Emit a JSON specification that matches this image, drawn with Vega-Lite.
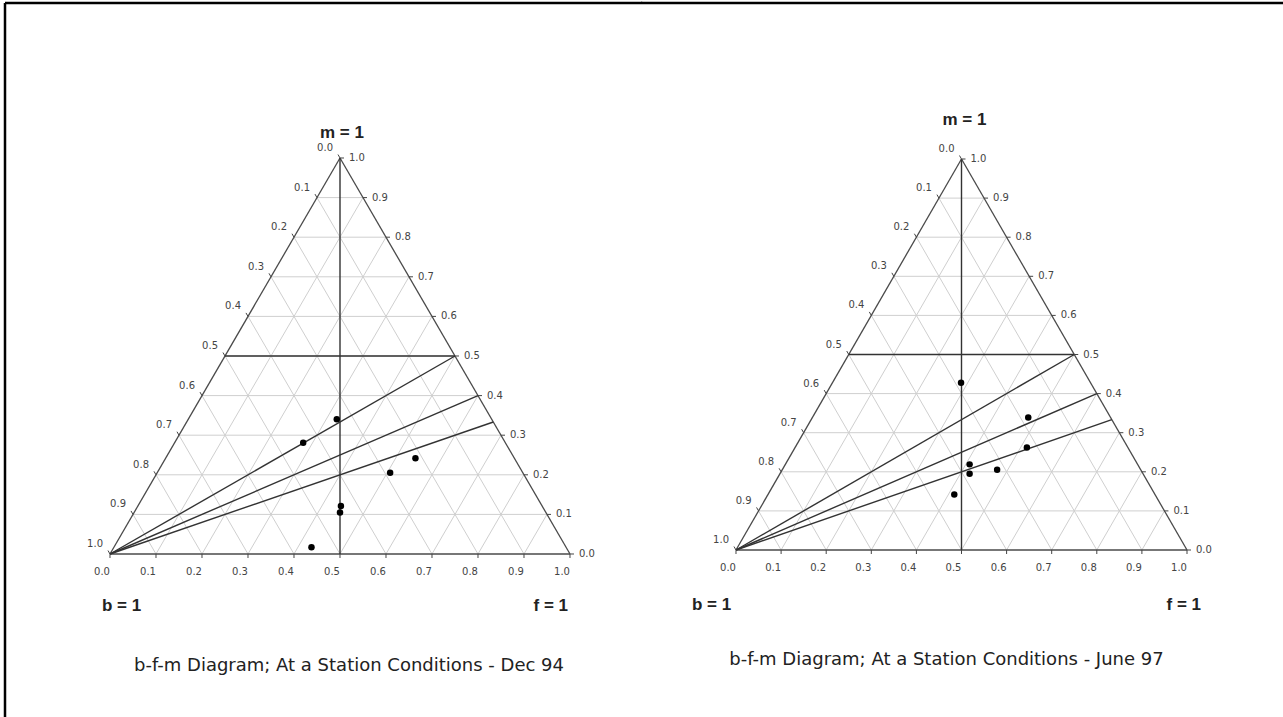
{
  "$schema": "https://vega.github.io/schema/vega-lite/v6.json",
  "background": "white",
  "padding": {"left": 3, "top": 1, "right": 0, "bottom": 0},
  "spacing": 0,
  "bounds": "flush",
  "config": {"view": {"stroke": null}},
  "datasets": {
    "grid": [
      {"x": 0.05, "y": 0.1, "x2": 0.95, "y2": 0.1},
      {"x": 0.1, "y": 0.2, "x2": 0.9, "y2": 0.2},
      {"x": 0.15, "y": 0.3, "x2": 0.85, "y2": 0.3},
      {"x": 0.2, "y": 0.4, "x2": 0.8, "y2": 0.4},
      {"x": 0.25, "y": 0.5, "x2": 0.75, "y2": 0.5},
      {"x": 0.3, "y": 0.6, "x2": 0.7, "y2": 0.6},
      {"x": 0.35, "y": 0.7, "x2": 0.65, "y2": 0.7},
      {"x": 0.4, "y": 0.8, "x2": 0.6, "y2": 0.8},
      {"x": 0.45, "y": 0.9, "x2": 0.55, "y2": 0.9},
      {"x": 0.1, "y": 0, "x2": 0.55, "y2": 0.9},
      {"x": 0.2, "y": 0, "x2": 0.6, "y2": 0.8},
      {"x": 0.3, "y": 0, "x2": 0.65, "y2": 0.7},
      {"x": 0.4, "y": 0, "x2": 0.7, "y2": 0.6},
      {"x": 0.5, "y": 0, "x2": 0.75, "y2": 0.5},
      {"x": 0.6, "y": 0, "x2": 0.8, "y2": 0.4},
      {"x": 0.7, "y": 0, "x2": 0.85, "y2": 0.3},
      {"x": 0.8, "y": 0, "x2": 0.9, "y2": 0.2},
      {"x": 0.9, "y": 0, "x2": 0.95, "y2": 0.1},
      {"x": 0.1, "y": 0, "x2": 0.05, "y2": 0.1},
      {"x": 0.2, "y": 0, "x2": 0.1, "y2": 0.2},
      {"x": 0.3, "y": 0, "x2": 0.15, "y2": 0.3},
      {"x": 0.4, "y": 0, "x2": 0.2, "y2": 0.4},
      {"x": 0.5, "y": 0, "x2": 0.25, "y2": 0.5},
      {"x": 0.6, "y": 0, "x2": 0.3, "y2": 0.6},
      {"x": 0.7, "y": 0, "x2": 0.35, "y2": 0.7},
      {"x": 0.8, "y": 0, "x2": 0.4, "y2": 0.8},
      {"x": 0.9, "y": 0, "x2": 0.45, "y2": 0.9}
    ],
    "edges": [
      {"x": 0, "y": 0, "x2": 1, "y2": 0},
      {"x": 0, "y": 0, "x2": 0.5, "y2": 1},
      {"x": 1, "y": 0, "x2": 0.5, "y2": 1}
    ],
    "guides": [
      {"x": 0.5, "y": 0, "x2": 0.5, "y2": 1},
      {"x": 0.25, "y": 0.5, "x2": 0.75, "y2": 0.5},
      {"x": 0, "y": 0, "x2": 0.75, "y2": 0.5},
      {"x": 0, "y": 0, "x2": 0.8, "y2": 0.4},
      {"x": 0, "y": 0, "x2": 0.8333, "y2": 0.3333}
    ],
    "sideF": [
      {"v": 0.0, "x": 0.0, "y": 0}, {"v": 0.1, "x": 0.1, "y": 0}, {"v": 0.2, "x": 0.2, "y": 0},
      {"v": 0.3, "x": 0.3, "y": 0}, {"v": 0.4, "x": 0.4, "y": 0}, {"v": 0.5, "x": 0.5, "y": 0},
      {"v": 0.6, "x": 0.6, "y": 0}, {"v": 0.7, "x": 0.7, "y": 0}, {"v": 0.8, "x": 0.8, "y": 0},
      {"v": 0.9, "x": 0.9, "y": 0}, {"v": 1.0, "x": 1.0, "y": 0}
    ],
    "sideB": [
      {"v": 0.0, "x": 0.5, "y": 1.0}, {"v": 0.1, "x": 0.45, "y": 0.9}, {"v": 0.2, "x": 0.4, "y": 0.8},
      {"v": 0.3, "x": 0.35, "y": 0.7}, {"v": 0.4, "x": 0.3, "y": 0.6}, {"v": 0.5, "x": 0.25, "y": 0.5},
      {"v": 0.6, "x": 0.2, "y": 0.4}, {"v": 0.7, "x": 0.15, "y": 0.3}, {"v": 0.8, "x": 0.1, "y": 0.2},
      {"v": 0.9, "x": 0.05, "y": 0.1}, {"v": 1.0, "x": 0.0, "y": 0.0}
    ],
    "sideM": [
      {"v": 0.0, "x": 1.0, "y": 0.0}, {"v": 0.1, "x": 0.95, "y": 0.1}, {"v": 0.2, "x": 0.9, "y": 0.2},
      {"v": 0.3, "x": 0.85, "y": 0.3}, {"v": 0.4, "x": 0.8, "y": 0.4}, {"v": 0.5, "x": 0.75, "y": 0.5},
      {"v": 0.6, "x": 0.7, "y": 0.6}, {"v": 0.7, "x": 0.65, "y": 0.7}, {"v": 0.8, "x": 0.6, "y": 0.8},
      {"v": 0.9, "x": 0.55, "y": 0.9}, {"v": 1.0, "x": 0.5, "y": 1.0}
    ],
    "cap94": [
      {"role": "apex", "label": "m = 1", "x": 0.5, "y": 1},
      {"role": "left", "label": "b = 1", "x": 0, "y": 0},
      {"role": "right", "label": "f = 1", "x": 1, "y": 0},
      {"role": "title", "label": "b-f-m Diagram; At a Station Conditions - Dec 94", "x": 0.5, "y": 0}
    ],
    "cap97": [
      {"role": "apex", "label": "m = 1", "x": 0.5, "y": 1},
      {"role": "left", "label": "b = 1", "x": 0, "y": 0},
      {"role": "right", "label": "f = 1", "x": 1, "y": 0},
      {"role": "title", "label": "b-f-m Diagram; At a Station Conditions - June 97", "x": 0.5, "y": 0}
    ],
    "dec94": [
      {"x": 0.493, "y": 0.340},
      {"x": 0.420, "y": 0.281},
      {"x": 0.664, "y": 0.242},
      {"x": 0.609, "y": 0.205},
      {"x": 0.502, "y": 0.121},
      {"x": 0.500, "y": 0.105},
      {"x": 0.438, "y": 0.017}
    ],
    "jun97": [
      {"x": 0.499, "y": 0.428},
      {"x": 0.648, "y": 0.339},
      {"x": 0.645, "y": 0.262},
      {"x": 0.518, "y": 0.219},
      {"x": 0.518, "y": 0.195},
      {"x": 0.579, "y": 0.205},
      {"x": 0.484, "y": 0.142}
    ]
  },
  "hconcat": [
    {
      "width": 636,
      "height": 714,
      "view": {"stroke": "#000000", "strokeWidth": 2.5, "strokeDash": [637, 1349, 714, 0]},
      "encoding": {
        "x": {"field": "x", "type": "quantitative", "scale": {"domain": [-0.22826, 1.15435], "nice": false, "zero": false}, "axis": null},
        "y": {"field": "y", "type": "quantitative", "scale": {"domain": [-0.41162, 1.39141], "nice": false, "zero": false}, "axis": null}
      },
      "layer": [
        {"data": {"name": "grid"}, "mark": {"type": "rule", "color": "#cfcfcf", "strokeWidth": 1}, "encoding": {"x2": {"field": "x2"}, "y2": {"field": "y2"}}},
        {"data": {"name": "edges"}, "mark": {"type": "rule", "color": "#4a4a4a", "strokeWidth": 1.3}, "encoding": {"x2": {"field": "x2"}, "y2": {"field": "y2"}}},
        {"data": {"name": "guides"}, "mark": {"type": "rule", "color": "#333333", "strokeWidth": 1.4}, "encoding": {"x2": {"field": "x2"}, "y2": {"field": "y2"}}},
        {"data": {"name": "sideF"}, "mark": {"type": "point", "shape": "M0,0L0,1", "size": 64, "filled": false, "opacity": 1, "color": "#444444", "strokeWidth": 1}},
        {"data": {"name": "sideB"}, "mark": {"type": "point", "shape": "M0,0L-0.5,-0.87", "size": 64, "filled": false, "opacity": 1, "color": "#444444", "strokeWidth": 1}},
        {"data": {"name": "sideM"}, "mark": {"type": "point", "shape": "M0,0L1,0", "size": 64, "filled": false, "opacity": 1, "color": "#444444", "strokeWidth": 1}},
        {"data": {"name": "sideF"}, "mark": {"type": "text", "font": "DejaVu Sans", "fontSize": 10, "color": "#444444", "align": "center", "baseline": "middle", "dx": -8, "dy": 18}, "encoding": {"text": {"field": "v", "type": "quantitative", "format": ".1f"}}},
        {"data": {"name": "sideB"}, "mark": {"type": "text", "font": "DejaVu Sans", "fontSize": 10, "color": "#444444", "align": "right", "baseline": "middle", "dx": -7, "dy": -10}, "encoding": {"text": {"field": "v", "type": "quantitative", "format": ".1f"}}},
        {"data": {"name": "sideM"}, "mark": {"type": "text", "font": "DejaVu Sans", "fontSize": 10, "color": "#444444", "align": "left", "baseline": "middle", "dx": 9}, "encoding": {"text": {"field": "v", "type": "quantitative", "format": ".1f"}}},
        {"data": {"name": "dec94"}, "mark": {"type": "point", "filled": true, "opacity": 1, "color": "#000000", "size": 42}},
        {"data": {"name": "cap94"}, "transform": [{"filter": "datum.role == 'apex'"}], "mark": {"type": "text", "font": "Liberation Sans", "fontWeight": "bold", "fontSize": 17, "color": "#222222", "align": "center", "baseline": "middle", "dx": 2, "dy": -25}, "encoding": {"text": {"field": "label"}}},
        {"data": {"name": "cap94"}, "transform": [{"filter": "datum.role == 'left'"}], "mark": {"type": "text", "font": "Liberation Sans", "fontWeight": "bold", "fontSize": 17, "color": "#222222", "align": "left", "baseline": "middle", "dx": -8, "dy": 52}, "encoding": {"text": {"field": "label"}}},
        {"data": {"name": "cap94"}, "transform": [{"filter": "datum.role == 'right'"}], "mark": {"type": "text", "font": "Liberation Sans", "fontWeight": "bold", "fontSize": 17, "color": "#222222", "align": "right", "baseline": "middle", "dx": -2, "dy": 52}, "encoding": {"text": {"field": "label"}}},
        {"data": {"name": "cap94"}, "transform": [{"filter": "datum.role == 'title'"}], "mark": {"type": "text", "font": "DejaVu Sans", "fontSize": 18, "color": "#222222", "align": "center", "baseline": "middle", "dx": 9, "dy": 112}, "encoding": {"text": {"field": "label"}}}
      ]
    },
    {
      "width": 642,
      "height": 714,
      "view": {"stroke": "#000000", "strokeWidth": 2.5, "strokeDash": [642, 2100]},
      "encoding": {
        "x": {"field": "x", "type": "quantitative", "scale": {"domain": [-0.21064, 1.21286], "nice": false, "zero": false}, "axis": null},
        "y": {"field": "y", "type": "quantitative", "scale": {"domain": [-0.42711, 1.39898], "nice": false, "zero": false}, "axis": null}
      },
      "layer": [
        {"data": {"name": "grid"}, "mark": {"type": "rule", "color": "#cfcfcf", "strokeWidth": 1}, "encoding": {"x2": {"field": "x2"}, "y2": {"field": "y2"}}},
        {"data": {"name": "edges"}, "mark": {"type": "rule", "color": "#4a4a4a", "strokeWidth": 1.3}, "encoding": {"x2": {"field": "x2"}, "y2": {"field": "y2"}}},
        {"data": {"name": "guides"}, "mark": {"type": "rule", "color": "#333333", "strokeWidth": 1.4}, "encoding": {"x2": {"field": "x2"}, "y2": {"field": "y2"}}},
        {"data": {"name": "sideF"}, "mark": {"type": "point", "shape": "M0,0L0,1", "size": 64, "filled": false, "opacity": 1, "color": "#444444", "strokeWidth": 1}},
        {"data": {"name": "sideB"}, "mark": {"type": "point", "shape": "M0,0L-0.5,-0.87", "size": 64, "filled": false, "opacity": 1, "color": "#444444", "strokeWidth": 1}},
        {"data": {"name": "sideM"}, "mark": {"type": "point", "shape": "M0,0L1,0", "size": 64, "filled": false, "opacity": 1, "color": "#444444", "strokeWidth": 1}},
        {"data": {"name": "sideF"}, "mark": {"type": "text", "font": "DejaVu Sans", "fontSize": 10, "color": "#444444", "align": "center", "baseline": "middle", "dx": -8, "dy": 18}, "encoding": {"text": {"field": "v", "type": "quantitative", "format": ".1f"}}},
        {"data": {"name": "sideB"}, "mark": {"type": "text", "font": "DejaVu Sans", "fontSize": 10, "color": "#444444", "align": "right", "baseline": "middle", "dx": -7, "dy": -10}, "encoding": {"text": {"field": "v", "type": "quantitative", "format": ".1f"}}},
        {"data": {"name": "sideM"}, "mark": {"type": "text", "font": "DejaVu Sans", "fontSize": 10, "color": "#444444", "align": "left", "baseline": "middle", "dx": 9}, "encoding": {"text": {"field": "v", "type": "quantitative", "format": ".1f"}}},
        {"data": {"name": "jun97"}, "mark": {"type": "point", "filled": true, "opacity": 1, "color": "#000000", "size": 42}},
        {"data": {"name": "cap97"}, "transform": [{"filter": "datum.role == 'apex'"}], "mark": {"type": "text", "font": "Liberation Sans", "fontWeight": "bold", "fontSize": 17, "color": "#222222", "align": "center", "baseline": "middle", "dx": 3, "dy": -39}, "encoding": {"text": {"field": "label"}}},
        {"data": {"name": "cap97"}, "transform": [{"filter": "datum.role == 'left'"}], "mark": {"type": "text", "font": "Liberation Sans", "fontWeight": "bold", "fontSize": 17, "color": "#222222", "align": "left", "baseline": "middle", "dx": -44, "dy": 55}, "encoding": {"text": {"field": "label"}}},
        {"data": {"name": "cap97"}, "transform": [{"filter": "datum.role == 'right'"}], "mark": {"type": "text", "font": "Liberation Sans", "fontWeight": "bold", "fontSize": 17, "color": "#222222", "align": "right", "baseline": "middle", "dx": 14, "dy": 55}, "encoding": {"text": {"field": "label"}}},
        {"data": {"name": "cap97"}, "transform": [{"filter": "datum.role == 'title'"}], "mark": {"type": "text", "font": "DejaVu Sans", "fontSize": 18, "color": "#222222", "align": "center", "baseline": "middle", "dx": -15, "dy": 110}, "encoding": {"text": {"field": "label"}}}
      ]
    }
  ]
}
